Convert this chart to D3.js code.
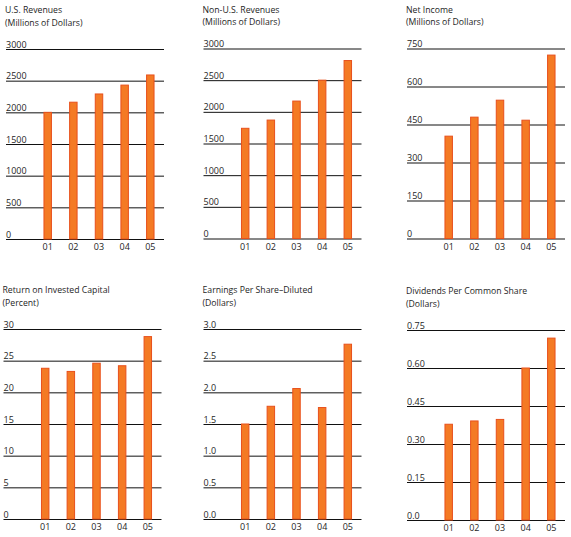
<!DOCTYPE html>
<html>
<head>
<meta charset="utf-8">
<script src="https://cdn.jsdelivr.net/npm/d3@7"></script>
<style>
  body { margin: 0; background: #fff; }
  text { font-family: "Open Sans", sans-serif; fill: #1e1e1e; }
</style>
</head>
<body>
<script>
// data
const years = ["01", "02", "03", "04", "05"];

const usRevenues    = [2000, 2160, 2290, 2430, 2590];
const nonUsRevenues = [1740, 1870, 2170, 2500, 2810];
const netIncome     = [404, 479, 546, 467, 724];
const roic          = [23.8, 23.3, 24.6, 24.2, 28.8];
const epsDiluted    = [1.50, 1.78, 2.06, 1.76, 2.76];
const dividends     = [0.378, 0.391, 0.397, 0.60, 0.718];

const revTicks    = [0, 500, 1000, 1500, 2000, 2500, 3000];
const incomeTicks = [0, 150, 300, 450, 600, 750];
const roicTicks   = [0, 5, 10, 15, 20, 25, 30];
const epsTicks    = [0, 0.5, 1.0, 1.5, 2.0, 2.5, 3.0];
const divTicks    = [0, 0.15, 0.30, 0.45, 0.60, 0.75];

const revLabels    = ["0", "500", "1000", "1500", "2000", "2500", "3000"];
const incomeLabels = ["0", "150", "300", "450", "600", "750"];
const roicLabels   = ["0", "5", "10", "15", "20", "25", "30"];
const epsLabels    = ["0.0", "0.5", "1.0", "1.5", "2.0", "2.5", "3.0"];
const divLabels    = ["0.0", "0.15", "0.30", "0.45", "0.60", "0.75"];

const panels = [
  {title: "U.S. Revenues", sub: "(Millions of Dollars)", values: usRevenues, ticks: revTicks, labels: revLabels, left: 6, top: 49},
  {title: "Non-U.S. Revenues", sub: "(Millions of Dollars)", values: nonUsRevenues, ticks: revTicks, labels: revLabels, left: 203.5, top: 48.5},
  {title: "Net Income", sub: "(Millions of Dollars)", values: netIncome, ticks: incomeTicks, labels: incomeLabels, left: 407, top: 48.5},
  {title: "Return on Invested Capital", sub: "(Percent)", values: roic, ticks: roicTicks, labels: roicLabels, left: 3.5, top: 329},
  {title: "Earnings Per Share\u2013Diluted", sub: "(Dollars)", values: epsDiluted, ticks: epsTicks, labels: epsLabels, left: 203.5, top: 329},
  {title: "Dividends Per Common Share", sub: "(Dollars)", values: dividends, ticks: divTicks, labels: divLabels, left: 407, top: 330}
];

const width = 158, height = 190;
const fontSize = "9px";
const titleSize = "8.7px";

const svg = d3.select("body").append("svg")
    .attr("width", 571)
    .attr("height", 537);

panels.forEach(p => {
  const g = svg.append("g")
      .attr("transform", `translate(${p.left}, ${p.top})`);

  // titles sit above the top gridline
  g.append("text")
      .attr("x", -1).attr("y", -35.6)
      .style("font-size", titleSize)
      .text(p.title);
  g.append("text")
      .attr("x", -1).attr("y", -23.4)
      .style("font-size", titleSize)
      .text(p.sub);

  const x = d3.scaleBand()
      .domain(years)
      .range([29, 157])
      .paddingInner(0.67)
      .paddingOuter(0.33);

  const y = d3.scaleLinear()
      .domain([0, d3.max(p.ticks)])
      .range([height, 0]);

  // gridlines with labels sitting on top of each line
  const grid = g.append("g")
      .call(d3.axisRight(y)
        .tickValues(p.ticks)
        .tickSize(width)
        .tickFormat((d, i) => p.labels[i]));
  grid.select(".domain").remove();
  grid.selectAll(".tick line").attr("stroke", "#111").attr("stroke-width", 1);
  grid.selectAll(".tick text")
      .attr("x", 0)
      .attr("dy", -2)
      .attr("text-anchor", "start")
      .style("font-size", fontSize);

  g.selectAll(".bar")
      .data(p.values)
    .enter().append("rect")
      .attr("class", "bar")
      .attr("x", (d, i) => x(years[i]) + 0.5)
      .attr("width", x.bandwidth() - 1)
      .attr("y", d => y(d))
      .attr("height", d => height - y(d))
      .attr("fill", "#f47a24")
      .attr("stroke", "#e8501c")
      .attr("stroke-width", 1);

  const xAxis = g.append("g")
      .attr("transform", `translate(0, ${height})`)
      .call(d3.axisBottom(x).tickSize(0));
  xAxis.select(".domain").remove();
  xAxis.selectAll("text")
      .attr("dy", 0)
      .attr("y", 11)
      .style("font-size", fontSize);
});
</script>
</body>
</html>
